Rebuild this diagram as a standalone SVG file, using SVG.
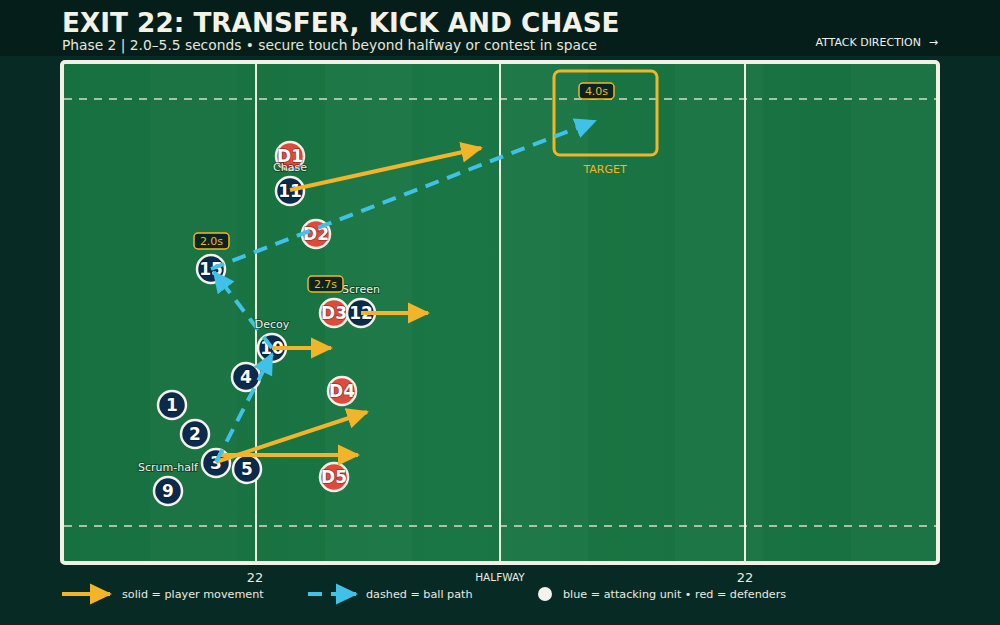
<svg xmlns="http://www.w3.org/2000/svg" width="1000" height="625" viewBox="0 0 1000 625">
<defs>
<marker id="hg" markerUnits="userSpaceOnUse" markerWidth="22" markerHeight="22" viewBox="0 0 22 22" refX="20" refY="11" orient="auto"><path d="M0,0.5 L22,11 L0,21.5 Z" fill="#f2b52a"/></marker>
<marker id="hb" markerUnits="userSpaceOnUse" markerWidth="22" markerHeight="22" viewBox="0 0 22 22" refX="20" refY="11" orient="auto"><path d="M0,0.5 L22,11 L0,21.5 Z" fill="#3fc1e8"/></marker>
<linearGradient id="pg" x1="0" x2="1" y1="0" y2="0">
<stop offset="0" stop-color="#17703f"/><stop offset="0.45" stop-color="#1a7644"/><stop offset="1" stop-color="#17703f"/>
</linearGradient>
</defs>
<style>
text{font-family:"DejaVu Sans","Liberation Sans",sans-serif}
.ln{stroke:#f1efe2;stroke-width:2;fill:none}
.dl{stroke:#d6dccd;stroke-width:1.5;stroke-dasharray:8 7;fill:none}
.mv{stroke:#f2b52a;stroke-width:4;fill:none;marker-end:url(#hg)}
.bp{stroke:#3fc1e8;stroke-width:4;fill:none;stroke-dasharray:14 9;marker-end:url(#hb)}
.a circle{fill:#0c2a4b;stroke:#f4f2ea;stroke-width:2.5}
.d circle{fill:#e04a3b;stroke:#f4f2ea;stroke-width:2.5}
.n{font-size:17px;font-weight:bold;fill:#ffffff;text-anchor:middle;paint-order:stroke;stroke:rgba(0,0,0,0.35);stroke-width:1.5}
.lb{font-size:11px;fill:#eef0e6;text-anchor:middle;paint-order:stroke;stroke:rgba(10,40,30,0.55);stroke-width:2}
.tg rect{fill:#0c2420;stroke:#f2b52a;stroke-width:1.5}
.tg text{font-size:11px;fill:#f2b52a;text-anchor:middle}
.ft{font-size:11.2px;fill:#e8ebe0}
.ax{font-size:13px;fill:#e8ebe0;text-anchor:middle}
</style>
<rect x="0" y="0" width="1000" height="625" fill="#082a24"/>
<rect x="0" y="0" width="1000" height="56" fill="#061e1a"/>
<text x="62" y="32" font-size="26.3" font-weight="bold" fill="#f4f2e6">EXIT 22: TRANSFER, KICK AND CHASE</text>
<text x="62" y="50" font-size="13.8" fill="#e4e6da">Phase 2 | 2.0–5.5 seconds • secure touch beyond halfway or contest in space</text>
<text x="921" y="46" font-size="11" fill="#f0f0ea" text-anchor="end">ATTACK DIRECTION</text>
<text x="938" y="46" font-size="11" fill="#f0f0ea" text-anchor="end">→</text>
<g id="pitch">
<rect x="64" y="64" width="876" height="501" rx="3" fill="#04140f" opacity="0.5"/>
<rect x="62" y="62" width="876" height="501" rx="3" fill="url(#pg)" stroke="#f4f1e4" stroke-width="4"/>
<g fill="#ffffff" opacity="0.02">
<rect x="150" y="64" width="87" height="497"/><rect x="325" y="64" width="87" height="497"/><rect x="500" y="64" width="88" height="497"/><rect x="675" y="64" width="88" height="497"/><rect x="851" y="64" width="85" height="497"/>
</g>
<line class="dl" x1="64" y1="99" x2="936" y2="99"/>
<line class="dl" x1="64" y1="526" x2="936" y2="526"/>
<line class="ln" x1="256" y1="64" x2="256" y2="561"/>
<line class="ln" x1="500" y1="64" x2="500" y2="561"/>
<line class="ln" x1="745" y1="64" x2="745" y2="561"/>
</g>
<g id="target">
<rect x="554" y="71" width="103" height="84" rx="6" fill="none" stroke="#f2b52a" stroke-width="3"/>
<text x="605" y="173" font-size="11" fill="#f2b52a" text-anchor="middle">TARGET</text>
</g>
<g id="defenders">
<g class="d" id="D1"><circle cx="290" cy="156" r="14"/><text class="n" x="290" y="162">D1</text></g>
<g class="d" id="D2"><circle cx="316" cy="234" r="14"/><text class="n" x="316" y="240">D2</text></g>
<g class="d" id="D3"><circle cx="334" cy="313" r="14"/><text class="n" x="334" y="319">D3</text></g>
<g class="d" id="D4"><circle cx="342" cy="391" r="14"/><text class="n" x="342" y="397">D4</text></g>
<g class="d" id="D5"><circle cx="334" cy="477" r="14"/><text class="n" x="334" y="483">D5</text></g>
</g>
<g id="attackers">
<g class="a" id="p1"><circle cx="172" cy="405" r="14"/><text class="n" x="172" y="411">1</text></g>
<g class="a" id="p2"><circle cx="195" cy="434" r="14"/><text class="n" x="195" y="440">2</text></g>
<g class="a" id="p3"><circle cx="216" cy="463" r="14"/><text class="n" x="216" y="469">3</text></g>
<g class="a" id="p5"><circle cx="247" cy="469" r="14"/><text class="n" x="247" y="475">5</text></g>
<g class="a" id="p9"><circle cx="168" cy="491" r="14"/><text class="n" x="168" y="497">9</text></g>
<g class="a" id="p4"><circle cx="246" cy="377" r="14"/><text class="n" x="246" y="383">4</text></g>
<g class="a" id="p10"><circle cx="272" cy="348" r="14"/><text class="n" x="272" y="354">10</text></g>
<g class="a" id="p15"><circle cx="211" cy="269" r="14"/><text class="n" x="211" y="275">15</text></g>
<g class="a" id="p11"><circle cx="290" cy="191" r="14"/><text class="n" x="290" y="197">11</text></g>
<g class="a" id="p12"><circle cx="361" cy="313" r="14"/><text class="n" x="361" y="319">12</text></g>
</g>
<g id="connectors">
<line class="mv" x1="290" y1="190" x2="481" y2="148"/>
<line class="mv" x1="361" y1="313" x2="428" y2="313"/>
<line class="mv" x1="272" y1="348" x2="331" y2="348"/>
<line class="mv" x1="216" y1="462" x2="367" y2="412"/>
<line class="mv" x1="218" y1="455" x2="358" y2="455"/>
<line class="bp" x1="216" y1="462" x2="272" y2="354"/>
<line class="bp" x1="272" y1="348" x2="214" y2="272"/>
<line class="bp" x1="211" y1="269" x2="595" y2="121"/>
</g>
<g id="labels">
<text class="lb" x="290" y="171">Chase</text>
<text class="lb" x="361" y="293">Screen</text>
<text class="lb" x="272" y="328">Decoy</text>
<text class="lb" x="168" y="471">Scrum-half</text>
</g>
<g id="tags">
<g class="tg"><rect x="194" y="233" width="35" height="16" rx="4"/><text x="211.5" y="245">2.0s</text></g>
<g class="tg"><rect x="308" y="276" width="35" height="16" rx="4"/><text x="325.5" y="288">2.7s</text></g>
<g class="tg"><rect x="579" y="83" width="35" height="16" rx="4"/><text x="596.5" y="95">4.0s</text></g>
</g>
<g id="footer">
<text class="ax" x="255" y="582">22</text>
<text class="ax" x="500" y="581" style="font-size:10.5px">HALFWAY</text>
<text class="ax" x="745" y="582">22</text>
<line class="mv" x1="62" y1="594" x2="110" y2="594"/>
<text class="ft" x="122" y="598">solid = player movement</text>
<line class="bp" x1="308" y1="594" x2="356" y2="594"/>
<text class="ft" x="366" y="598">dashed = ball path</text>
<circle cx="545" cy="594" r="7" fill="#f4f2ea"/>
<text class="ft" x="563" y="598">blue = attacking unit • red = defenders</text>
</g>
</svg>
